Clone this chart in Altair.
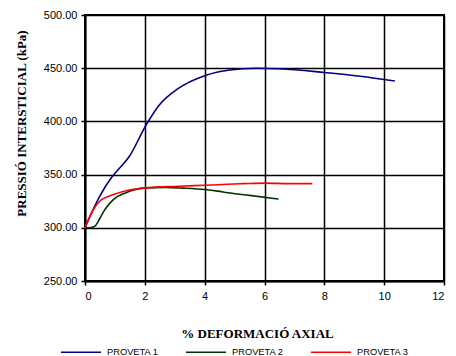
import altair as alt
import pandas as pd

# PROVETA 1
p1_x = [0, 0.22, 0.5, 0.88, 1.09, 1.48, 2.03, 2.47, 3.12, 4.0, 4.44, 4.77, 5.76, 6.5, 8.0, 9.2, 10.36]
p1_y = [300, 314, 330, 347, 354, 367, 396, 415, 431, 443, 446.5, 448, 450, 449.5, 446, 442.5, 438]
# PROVETA 2
p2_x = [0, 0.2, 0.33, 0.5, 0.66, 0.93, 1.37, 2.03, 2.68, 3.3, 4.0, 4.44, 4.77, 5.5, 6.47]
p2_y = [300, 300.3, 301.5, 309, 317, 326, 333, 337.5, 338, 337.3, 336, 334.5, 333, 330.5, 327]
# PROVETA 3
p3_x = [0, 0.22, 0.49, 0.93, 1.48, 2.03, 3.12, 4.0, 4.44, 4.77, 5.3, 6.03, 6.8, 7.6]
p3_y = [300, 314, 325, 331, 335.5, 337.5, 339, 340, 340.5, 341, 341.5, 342, 341.5, 341.5]

series = ["PROVETA 1", "PROVETA 2", "PROVETA 3"]
colors = ["#000080", "#003300", "#FF0000"]

rows = []
for name, xs, ys in zip(series, [p1_x, p2_x, p3_x], [p1_y, p2_y, p3_y]):
    for i, (x, y) in enumerate(zip(xs, ys)):
        rows.append({"serie": name, "def": x, "p": y, "ord": i})
df = pd.DataFrame(rows)

chart = alt.Chart(df).mark_line(strokeWidth=1.6, interpolate="monotone").encode(
    x=alt.X("def:Q", scale=alt.Scale(domain=[0, 12], nice=False),
            axis=alt.Axis(title="% DEFORMACIÓ AXIAL", values=[0, 2, 4, 6, 8, 10, 12],
                          format="d", titlePadding=26, titleX=172, labelPadding=5)),
    y=alt.Y("p:Q", scale=alt.Scale(domain=[250, 500], nice=False, zero=False),
            axis=alt.Axis(title="PRESSIÓ INTERSTICIAL (kPa)", values=[250, 300, 350, 400, 450, 500],
                          format=".2f", titlePadding=15, titleY=108, labelPadding=4)),
    color=alt.Color("serie:N", scale=alt.Scale(domain=series, range=colors),
                    legend=alt.Legend(title=None, orient="none", legendX=-25, legendY=316,
                                      direction="horizontal", symbolType="stroke",
                                      symbolSize=1600, symbolStrokeWidth=1.5,
                                      labelFont="Liberation Sans", labelFontSize=9.3,
                                      labelColor="#000000", columnPadding=24,
                                      labelOffset=5)),
    order="ord:Q",
).properties(
    width=359, height=266,
    autosize=alt.AutoSizeParams(type="none"),
    padding={"left": 77, "top": 7, "right": 4, "bottom": 78},
).configure_view(
    stroke="#000000", strokeWidth=2
).configure_axis(
    grid=True, gridColor="#000000", gridWidth=1.5, gridOpacity=1,
    domainColor="#000000", domainWidth=2,
    tickColor="#000000", tickSize=4, tickWidth=1.5,
    labelFont="Liberation Sans", labelFontSize=11, labelColor="#000000",
    titleFont="Liberation Serif", titleFontSize=13, titleFontWeight="bold", titleColor="#000000",
)

chart.save("out.html", embed_options={"renderer": "svg", "actions": False})
